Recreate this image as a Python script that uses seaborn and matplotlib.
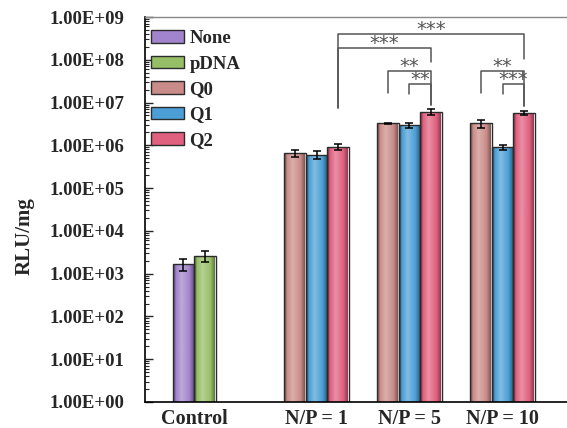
import numpy as np
import pandas as pd
import matplotlib
matplotlib.use("Agg")
import matplotlib.pyplot as plt
import seaborn as sns
from matplotlib.colors import LinearSegmentedColormap, to_rgb
from matplotlib.patches import Patch
from matplotlib.ticker import LogLocator, FuncFormatter, NullFormatter

# データ
groups = ["Control", "N/P = 1", "N/P = 5", "N/P = 10"]
group_members = [["None", "pDNA"], ["Q0", "Q1", "Q2"], ["Q0", "Q1", "Q2"], ["Q0", "Q1", "Q2"]]
rlu_values = [[1.7e3, 2.6e3], [6.5e5, 6.0e5, 9.1e5], [3.25e6, 2.95e6, 6.0e6], [3.25e6, 9.1e5, 5.6e6]]
rlu_errors = [[5.5e2, 7.0e2], [1.3e5, 1.2e5, 1.5e5], [4.0e4, 4.5e5, 9.0e5], [7.0e5, 1.3e5, 6.0e5]]
labels = ["None", "pDNA", "Q0", "Q1", "Q2"]
colors = ["#A284CC", "#96BE66", "#CA8C88", "#4C9FD6", "#E0607F"]

# significance brackets: (left group, bar, right group, bar, top, left drop, right drop) in log10
brackets = [
    ("N/P = 1", "Q2", "N/P = 10", "Q2", 8.60, 6.88, 8.01, "***"),
    ("N/P = 1", "Q2", "N/P = 5", "Q2", 8.27, 6.88, 7.95, "***"),
    ("N/P = 5", "Q0", "N/P = 5", "Q2", 7.74, 7.23, 6.94, "**"),
    ("N/P = 5", "Q1", "N/P = 5", "Q2", 7.43, 7.20, 6.94, "**"),
    ("N/P = 10", "Q0", "N/P = 10", "Q2", 7.74, 7.23, 6.92, "**"),
    ("N/P = 10", "Q1", "N/P = 10", "Q2", 7.43, 7.20, 6.92, "***"),
]

group_centers = [2.28, 7.98, 12.30, 16.64]

rows = []
for g, c, members, vals, errs in zip(groups, group_centers, group_members, rlu_values, rlu_errors):
    offs = np.arange(len(members)) - (len(members) - 1) / 2
    for m, o, v, e in zip(members, offs, vals, errs):
        rows.append({"group": g, "label": m, "pos": round(c + o, 3), "value": v, "err": e})
df = pd.DataFrame(rows)
pos_of = {(r.group, r.label): r.pos for r in df.itertuples()}

sns.set_style("white")
plt.rcParams["font.family"] = ["Liberation Serif", "DejaVu Serif"]
plt.rcParams["font.weight"] = "bold"

fig = plt.figure(figsize=(5.67, 4.28), dpi=100)
ax = fig.add_axes([145 / 567, 26 / 428, 422 / 567, 385 / 428])
ax.set_yscale("log")

sns.barplot(data=df, x="pos", y="value", hue="label", hue_order=labels,
            palette=dict(zip(labels, colors)), native_scale=True, dodge=False,
            width=1.0, errorbar=None, saturation=1, legend=False,
            edgecolor="#2b2b2b", linewidth=1.0, ax=ax)

# gradient shading inside bars
bars = list(ax.patches)
for bar in bars:
    base = np.array(to_rgb(bar.get_facecolor()))
    dark = base * 0.55
    light = base + (1 - base) * 0.3
    cmap = LinearSegmentedColormap.from_list(
        "g", [(0, dark), (0.12, base), (0.38, light), (0.75, base), (1, dark)])
    x0, w, h = bar.get_x(), bar.get_width(), bar.get_height()
    im = ax.imshow(np.linspace(0, 1, 64)[None, :], cmap=cmap, aspect="auto",
                   extent=(x0, x0 + w, 1, h), zorder=1.5, interpolation="bilinear")
    im.set_clip_path(bar)
    bar.set_facecolor("none")
    bar.set_zorder(2)

ax.errorbar(df["pos"], df["value"], yerr=df["err"], fmt="none", ecolor="black",
            elinewidth=1.1, capsize=3, capthick=1.1, zorder=3)

for g1, b1, g2, b2, top, d1, d2, txt in brackets:
    x1, x2 = pos_of[(g1, b1)], pos_of[(g2, b2)]
    ax.plot([x1, x1, x2, x2], [10 ** d1, 10 ** top, 10 ** top, 10 ** d2],
            color="#555555", lw=1.1, zorder=3)
    ax.annotate(txt, ((x1 + x2) / 2, 10 ** top), xytext=(0, -0.8), textcoords="offset points",
                ha="center", va="baseline", fontsize=14, fontweight="normal",
                family="DejaVu Sans", color="#555555")

ax.set_xlim(0, 19.63)
ax.set_ylim(1, 1e9)
ax.set_xticks(group_centers)
ax.set_xticklabels(groups, fontsize=14.5, fontweight="bold")
ax.tick_params(axis="x", length=0, pad=5)
ax.yaxis.set_major_locator(LogLocator(base=10, numticks=12))
ax.yaxis.set_minor_locator(LogLocator(base=10, subs=np.arange(2, 10), numticks=12))
ax.yaxis.set_major_formatter(FuncFormatter(lambda v, p: "1.00E+%02d" % round(np.log10(v))))
ax.yaxis.set_minor_formatter(NullFormatter())
ax.tick_params(axis="y", which="major", direction="in", length=6, width=1, pad=15, labelsize=13.5, left=True)
ax.tick_params(axis="y", which="minor", direction="in", length=3, width=0.8, left=True)
ax.set_xlabel("")
ax.xaxis.label.set_visible(False)
ax.set_ylabel("RLU/mg", fontsize=15, fontweight="bold")
ax.yaxis.set_label_coords(-0.262, 0.43)

for s in ["left", "bottom"]:
    ax.spines[s].set_color("black")
    ax.spines[s].set_linewidth(1.2)
ax.spines["top"].set_color("#888888")
ax.spines["top"].set_linewidth(1.0)
ax.spines["right"].set_visible(False)

handles = [Patch(facecolor=c, edgecolor="#2b2b2b", linewidth=1.0) for c in colors]
ax.legend(handles, labels, loc="upper left", bbox_to_anchor=(-0.012, 0.995), frameon=False,
          handlelength=1.75, handleheight=0.65, handletextpad=0.3,
          labelspacing=0.45, borderpad=0.1, prop={"weight": "bold", "size": 13.5})

fig.savefig("out.png", dpi=100, facecolor="white")
